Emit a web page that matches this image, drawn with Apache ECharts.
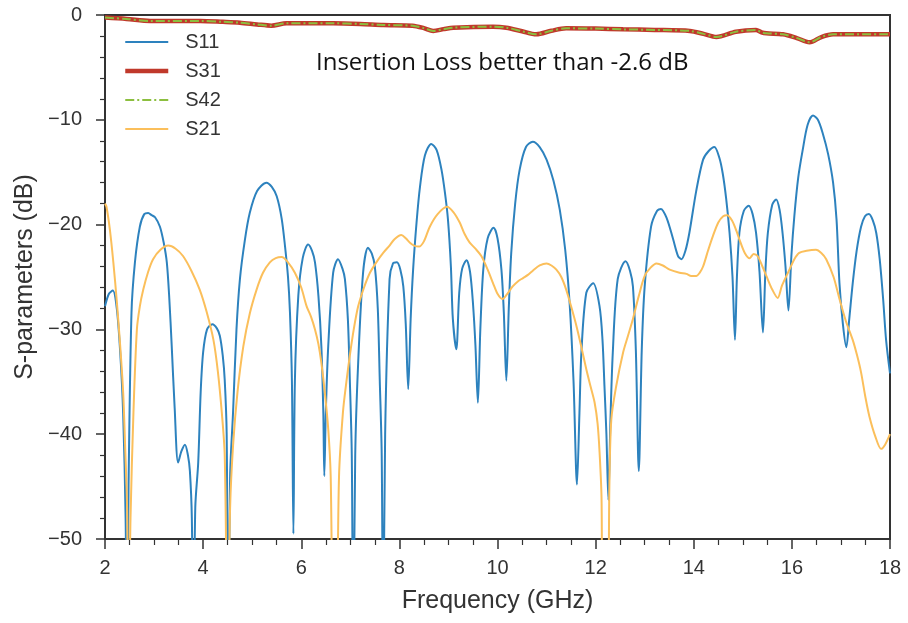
<!DOCTYPE html>
<html>
<head>
<meta charset="utf-8">
<script src="https://cdn.jsdelivr.net/npm/echarts@6/dist/echarts.min.js"></script>
<style>
html,body{margin:0;padding:0;background:#fff;}
#chart{width:908px;height:623px;}
</style>
</head>
<body>
<div id="chart"></div>
<script>
// ---- data (frequency in GHz, level in dB) ----
const s11Freq = [2.00,2.08,2.16,2.24,2.31,2.37,2.42,2.45,2.48,2.54,2.61,2.71,2.80,2.88,2.95,3.02,3.12,3.20,3.26,3.31,3.36,3.42,3.49,3.56,3.63,3.69,3.73,3.77,3.80,3.84,3.90,3.95,4.00,4.08,4.19,4.28,4.34,4.40,4.44,4.48,4.51,4.55,4.61,4.68,4.75,4.85,4.95,5.10,5.29,5.40,5.50,5.60,5.67,5.73,5.77,5.81,5.84,5.87,5.94,6.03,6.14,6.22,6.28,6.35,6.41,6.45,6.47,6.50,6.55,6.65,6.75,6.84,6.89,6.95,6.99,7.03,7.06,7.10,7.16,7.26,7.36,7.44,7.50,7.56,7.60,7.64,7.67,7.71,7.80,7.87,7.95,8.02,8.08,8.13,8.18,8.23,8.28,8.35,8.42,8.52,8.65,8.76,8.86,8.93,8.99,9.05,9.09,9.16,9.22,9.28,9.37,9.44,9.50,9.55,9.60,9.65,9.71,9.80,9.92,10.00,10.08,10.13,10.18,10.23,10.28,10.36,10.45,10.58,10.72,10.86,11.00,11.14,11.27,11.38,11.47,11.55,11.62,11.67,11.71,11.81,11.95,12.08,12.14,12.18,12.22,12.26,12.30,12.35,12.45,12.61,12.70,12.76,12.82,12.88,12.94,13.00,13.13,13.25,13.33,13.45,13.58,13.68,13.75,13.83,13.91,14.05,14.19,14.30,14.42,14.52,14.59,14.66,14.73,14.79,14.84,14.88,14.93,15.02,15.12,15.20,15.27,15.34,15.41,15.46,15.51,15.60,15.68,15.75,15.81,15.87,15.93,15.99,16.05,16.13,16.22,16.32,16.43,16.53,16.63,16.74,16.84,16.91,16.97,17.04,17.11,17.17,17.24,17.32,17.41,17.49,17.57,17.65,17.72,17.79,17.86,17.92,18.00];
const s11Db = [-27.8,-26.6,-26.3,-28.0,-32.2,-38,-48,-62,-45,-28.4,-23.6,-20.2,-19.0,-18.9,-19.1,-19.3,-20.2,-21.8,-23.6,-27,-31.6,-37.5,-42.7,-41.6,-41.0,-42,-43.5,-48,-62,-47,-42.7,-36,-32.2,-30.0,-29.5,-29.9,-30.6,-32.5,-34.8,-40,-62,-44,-37.9,-30,-25.2,-21.5,-18.9,-16.8,-16.0,-16.4,-17.3,-19.4,-22.1,-25,-28.4,-35,-49.5,-35,-26.8,-23.2,-21.9,-22.5,-23.6,-26.8,-31.6,-38,-44.0,-38,-31.6,-24.6,-23.3,-24.2,-25.2,-29,-34.8,-42,-62,-42,-33.2,-24.6,-22.2,-22.8,-24.0,-28,-34.8,-42,-62,-40,-25.2,-23.7,-23.6,-24.3,-25.9,-29.5,-35.7,-29,-24.3,-19.8,-16.4,-13.4,-12.3,-12.9,-14.8,-17,-19.5,-24,-29.0,-31.9,-26.5,-24.2,-23.4,-24.5,-27.5,-31.5,-37.0,-30,-24.3,-21.3,-20.3,-21.3,-24.3,-28.5,-34.9,-28,-22.7,-18.0,-14.8,-12.6,-12.1,-12.6,-13.8,-15.8,-18.6,-22.4,-27.5,-35,-44.8,-38,-32.2,-26.5,-25.6,-27.8,-31,-35.4,-40,-46.3,-39,-32.2,-25.2,-23.5,-24.4,-25.9,-32,-43.5,-32,-25.9,-20.2,-18.7,-18.5,-19.4,-21.4,-23.0,-23.3,-22.5,-20.8,-16.8,-13.8,-13.0,-12.6,-13.6,-15.1,-17.5,-20.8,-25,-31.0,-25,-20.8,-18.7,-18.2,-19.0,-20.8,-24.5,-30.3,-24.5,-20.8,-18.1,-17.6,-18.6,-20.8,-24,-28.2,-23,-19.2,-15.5,-12.9,-10.5,-9.6,-10.0,-11.3,-13.3,-16.0,-19.5,-25.6,-29.5,-31.7,-29,-25.6,-22.5,-20.2,-19.2,-19.0,-19.6,-20.8,-23.3,-27.1,-31,-34.2];

const s21Freq = [2.00,2.03,2.10,2.17,2.24,2.31,2.37,2.41,2.45,2.48,2.52,2.58,2.65,2.71,2.78,2.88,2.98,3.13,3.29,3.44,3.59,3.76,3.93,4.07,4.21,4.30,4.38,4.44,4.50,4.55,4.61,4.70,4.82,4.95,5.09,5.22,5.36,5.48,5.60,5.73,5.87,6.00,6.11,6.20,6.28,6.35,6.41,6.48,6.55,6.60,6.66,6.72,6.77,6.85,6.92,6.99,7.07,7.16,7.28,7.40,7.53,7.67,7.80,7.90,8.04,8.13,8.21,8.30,8.40,8.50,8.62,8.78,8.97,9.10,9.23,9.33,9.43,9.55,9.67,9.80,9.91,10.00,10.10,10.20,10.31,10.42,10.52,10.62,10.72,10.86,11.00,11.10,11.20,11.30,11.40,11.50,11.61,11.71,11.81,11.90,11.98,12.04,12.08,12.12,12.15,12.24,12.28,12.32,12.42,12.56,12.66,12.76,12.88,13.00,13.12,13.24,13.37,13.51,13.71,13.85,13.95,14.05,14.12,14.19,14.29,14.39,14.50,14.60,14.68,14.78,14.87,14.93,15.04,15.14,15.22,15.30,15.40,15.48,15.60,15.71,15.80,15.95,16.05,16.15,16.30,16.49,16.60,16.70,16.85,16.97,17.10,17.24,17.33,17.41,17.50,17.58,17.70,17.82,17.90,18.00];
const s21Db = [-18.0,-18.3,-20.5,-23.6,-27.3,-31.6,-36,-41.1,-47,-60,-48,-37.9,-30.0,-27.8,-26.2,-24.5,-23.3,-22.4,-22.0,-22.3,-23.0,-24.4,-26.2,-28.3,-31.0,-34,-37.9,-42,-60,-47,-41.1,-36,-31.6,-28.5,-26.2,-24.6,-23.6,-23.2,-23.1,-23.6,-24.6,-26.0,-27.8,-28.8,-30.0,-31.4,-33.2,-36,-39.5,-44,-62,-60,-44,-37.9,-35,-32.5,-30,-27.8,-26,-24.6,-23.6,-22.7,-22.0,-21.4,-21.0,-21.3,-21.7,-22.0,-22.1,-21.6,-20.2,-19.0,-18.3,-18.8,-19.8,-20.9,-21.7,-22.3,-23.0,-24.3,-25.6,-26.6,-27.1,-26.6,-25.9,-25.4,-25.1,-24.8,-24.4,-23.9,-23.7,-23.9,-24.3,-25.0,-26.2,-27.8,-29.7,-31.7,-33.8,-35.5,-37.0,-39,-41.7,-46,-60,-60,-45,-38.6,-35.4,-32.2,-30.6,-29.0,-26.8,-24.9,-24.1,-23.7,-23.9,-24.3,-24.6,-24.7,-24.9,-24.9,-24.6,-24.0,-22.5,-21.1,-19.8,-19.2,-19.1,-19.6,-20.6,-21.4,-22.7,-23.2,-22.8,-23.0,-24.0,-24.9,-26.2,-27.0,-25.8,-24.3,-23.3,-22.7,-22.5,-22.4,-22.7,-23.3,-25.0,-27.1,-29.2,-31.0,-32.5,-34.1,-36.5,-38.3,-40.2,-41.4,-41.0,-40.0];

const ilFreq = [2.00,2.44,2.92,3.94,4.40,4.75,5.10,5.39,5.70,6.65,7.20,7.67,8.27,8.50,8.69,8.90,9.10,9.91,10.18,10.50,10.79,11.10,11.40,12.00,12.56,13.20,13.92,14.20,14.46,14.86,15.27,15.38,15.48,15.82,16.10,16.36,16.60,16.84,17.92,18.00];
const s31Db = [-0.25,-0.38,-0.57,-0.57,-0.65,-0.73,-0.90,-1.02,-0.79,-0.79,-0.85,-0.95,-1.02,-1.25,-1.52,-1.35,-1.21,-1.11,-1.21,-1.55,-1.84,-1.50,-1.27,-1.30,-1.37,-1.42,-1.52,-1.80,-2.10,-1.59,-1.43,-1.65,-1.75,-1.84,-2.20,-2.60,-2.10,-1.84,-1.84,-1.84];
const s42Db = [-0.25,-0.38,-0.57,-0.57,-0.65,-0.73,-0.90,-1.02,-0.79,-0.79,-0.85,-0.95,-1.02,-1.25,-1.52,-1.35,-1.21,-1.11,-1.21,-1.55,-1.84,-1.50,-1.27,-1.30,-1.37,-1.42,-1.52,-1.80,-2.10,-1.59,-1.43,-1.65,-1.75,-1.84,-2.20,-2.60,-2.10,-1.84,-1.84,-1.84];

const seriesNames = ['S11','S31','S42','S21'];
const annotationText = 'Insertion Loss better than -2.6 dB';
const xLabel = 'Frequency (GHz)';
const yLabel = 'S-parameters (dB)';

function pairs(xs, ys){ return xs.map((x,i)=>[x, ys[i]]); }

const chart = echarts.init(document.getElementById('chart'), null, {renderer:'canvas'});
const axisFont = 'Liberation Sans, Arial, sans-serif';
chart.setOption({
  animation:false,
  backgroundColor:'#fff',
  grid:{left:105,right:18,top:15,bottom:84,show:true,borderColor:'#333',borderWidth:2,backgroundColor:'transparent'},
  legend:{
    orient:'vertical', left:118, top:27,
    itemWidth:43, itemHeight:14, itemGap:9,
    itemStyle:{opacity:0},
    lineStyle:{width:'inherit'},
    textStyle:{fontFamily:axisFont,fontSize:20,color:'#333',padding:[0,0,0,12]},
    data:seriesNames
  },
  xAxis:{
    type:'value', min:2, max:18, interval:2,
    name:xLabel, nameLocation:'middle', nameGap:50,
    nameTextStyle:{fontFamily:axisFont,fontSize:25,color:'#333'},
    axisLine:{onZero:false,lineStyle:{color:'#333',width:2}},
    axisTick:{length:10,lineStyle:{color:'#333',width:1.5}},
    minorTick:{show:true,splitNumber:4,length:6,lineStyle:{color:'#333',width:1.2}},
    axisLabel:{fontFamily:axisFont,fontSize:20,color:'#333',margin:19},
    splitLine:{show:false}
  },
  yAxis:{
    type:'value', min:-50, max:0, interval:10,
    name:yLabel, nameLocation:'middle', nameGap:64, nameRotate:90,
    nameTextStyle:{fontFamily:axisFont,fontSize:25,color:'#333'},
    axisLine:{onZero:false,lineStyle:{color:'#333',width:2}},
    axisTick:{length:9,lineStyle:{color:'#333',width:1.5}},
    minorTick:{show:true,splitNumber:5,length:5,lineStyle:{color:'#333',width:1.2}},
    axisLabel:{fontFamily:axisFont,fontSize:20,color:'#333',margin:23,
      formatter:v=> v<0 ? '\u2212'+Math.abs(v) : String(v)},
    splitLine:{show:false}
  },
  graphic:[{
    type:'text', x:316, y:63,
    style:{text:annotationText, font:'24px "Open Sans", Lato, sans-serif', fill:'#111', verticalAlign:'middle'}
  }],
  series:[
    {name:'S11',type:'line',data:pairs(s11Freq,s11Db),showSymbol:false,symbol:'none',smooth:0.3,clip:true,
     lineStyle:{color:'#2d82be',width:2},itemStyle:{color:'#2d82be'}},
    {name:'S31',type:'line',data:pairs(ilFreq,s31Db),showSymbol:false,symbol:'none',smooth:0.3,clip:true,
     lineStyle:{color:'#c0392b',width:4.5},itemStyle:{color:'#c0392b'}},
    {name:'S42',type:'line',data:pairs(ilFreq,s42Db),showSymbol:false,symbol:'none',smooth:0.3,clip:true,
     lineStyle:{color:'#8cbf3f',width:2,type:[9,3,2,3]},itemStyle:{color:'#8cbf3f'}},
    {name:'S21',type:'line',data:pairs(s21Freq,s21Db),showSymbol:false,symbol:'none',smooth:0.3,clip:true,
     lineStyle:{color:'#fbbf5b',width:2},itemStyle:{color:'#fbbf5b'}}
  ]
});
</script>
</body>
</html>
